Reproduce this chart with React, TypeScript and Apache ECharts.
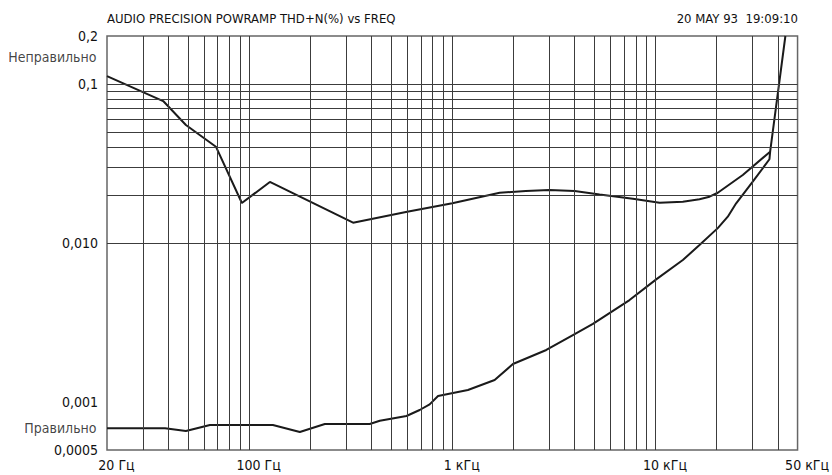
import React, { useEffect, useRef } from 'react';
import * as echarts from 'echarts';

const titleLeft = 'AUDIO PRECISION POWRAMP THD+N(%) vs FREQ';
const titleRight = '20 MAY 93  19:09:10';

const xTickValues = [20, 100, 1000, 10000, 50000];
const xTickLabels = ['20 Гц', '100 Гц', '1 кГц', '10 кГц', '50 кГц'];
const yTickValues = [0.0005, 0.001, 0.01, 0.1, 0.2];
const yTickLabels = ['0,0005', '0,001', '0,010', '0,1', '0,2'];

const xGridValues = [
  30, 40, 50, 60, 70, 80, 90, 100,
  200, 300, 400, 500, 600, 700, 800, 900, 1000,
  2000, 3000, 4000, 5000, 6000, 7000, 8000, 9000, 10000,
  20000, 30000, 40000,
];
const yGridValues = [
  0.0006, 0.0007, 0.0008, 0.0009, 0.001,
  0.002, 0.003, 0.004, 0.005, 0.006, 0.007, 0.008, 0.009, 0.01,
  0.02, 0.03, 0.04, 0.05, 0.06, 0.07, 0.08, 0.09, 0.1,
];

// Upper curve ("Неправильно")
const upperFreq = [
  20, 37.8, 48.9, 68.7, 92.2, 126.6, 325, 600, 1000, 1710, 2300, 3000, 4000,
  5306, 7737, 10470, 13630, 16460, 18440, 20250, 26880, 36650, 43560,
];
const upperThd = [
  0.112, 0.078, 0.0552, 0.0403, 0.01784, 0.0242, 0.01342, 0.0157, 0.0178, 0.0207, 0.0212, 0.0215, 0.0212,
  0.0202, 0.01896, 0.0179, 0.01817, 0.01882, 0.01954, 0.0207, 0.02676, 0.0375, 0.2,
];

// Lower curve ("Правильно")
const lowerFreq = [
  20, 38.6, 48.9, 64.2, 131, 177.8, 236, 392.6, 440, 595, 691, 774, 851, 1194, 1616, 1988,
  2902, 3922, 4920, 7450, 10080, 13630, 16460, 20250, 22680, 24940, 30100, 36360, 36650,
];
const lowerThd = [
  0.000684, 0.000684, 0.000658, 0.000718, 0.000718, 0.000649, 0.000729, 0.000729, 0.000764, 0.000818,
  0.000892, 0.000968, 0.001092, 0.001191, 0.001377, 0.001736,
  0.002126, 0.00264, 0.0031, 0.00438, 0.00591, 0.00782, 0.0097, 0.0124, 0.01463, 0.01776, 0.02428, 0.0336, 0.0375,
];

const annotationTexts = ['Неправильно', 'Правильно'];
const annotationValues = [0.147, 0.000687];

const FONT = "'Liberation Sans Narrow', 'DejaVu Sans Condensed', 'Liberation Sans', sans-serif";

function pickLabel(v: number, ticks: number[], labels: string[]): string {
  for (let i = 0; i < ticks.length; i++) {
    if (Math.abs(Math.log10(v) - Math.log10(ticks[i])) < 0.005) return labels[i];
  }
  return '';
}

export default function App() {
  const ref = useRef<HTMLDivElement>(null);
  useEffect(() => {
    if (!ref.current) return;
    const chart = echarts.init(ref.current, null, { renderer: 'svg' });
    const gridColor = '#3c3c3c';
    const textColor = '#111111';
    const option: any = {
      animation: false,
      backgroundColor: '#ffffff',
      title: [
        {
          text: titleLeft,
          left: 107,
          top: 12,
          padding: 0,
          textStyle: { fontFamily: FONT, fontSize: 13, fontWeight: 'normal', color: textColor },
        },
        {
          text: titleRight,
          right: 34,
          top: 12,
          padding: 0,
          textStyle: { fontFamily: FONT, fontSize: 13, fontWeight: 'normal', color: textColor },
        },
      ],
      grid: {
        left: 107,
        right: 34,
        top: 36,
        bottom: 25,
        show: true,
        borderColor: '#666',
        borderWidth: 1.5,
        containLabel: false,
      },
      xAxis: {
        type: 'log',
        logBase: 10,
        min: 20,
        max: 50000,
        axisLine: { show: false },
        axisTick: { show: false },
        splitLine: { show: false },
        axisLabel: {
          showMinLabel: true,
          showMaxLabel: true,
          margin: 8,
          padding: [0, 0, 0, 19],
          fontFamily: FONT,
          fontSize: 14,
          color: textColor,
          formatter: (v: number) => pickLabel(v, xTickValues, xTickLabels),
        },
      },
      yAxis: {
        type: 'log',
        logBase: 10,
        min: 0.0005,
        max: 0.2,
        axisLine: { show: false },
        axisTick: { show: false },
        splitLine: { show: false },
        axisLabel: {
          showMinLabel: true,
          showMaxLabel: true,
          margin: 9,
          fontFamily: FONT,
          fontSize: 14,
          color: textColor,
          formatter: (v: number) => pickLabel(v, yTickValues, yTickLabels),
        },
      },
      series: [
        {
          type: 'line',
          data: [],
          z: 1,
          silent: true,
          markLine: {
            silent: true,
            symbol: ['none', 'none'],
            label: { show: false },
            lineStyle: { type: 'solid', color: gridColor, width: 1 },
            data: [
              ...xGridValues.map((v) => ({ xAxis: v })),
              ...yGridValues.map((v) => ({ yAxis: v })),
            ],
          },
        },
        {
          type: 'line',
          z: 3,
          data: upperFreq.map((f, i) => [f, upperThd[i]]),
          showSymbol: false,
          symbol: 'none',
          lineStyle: { color: '#1a1a1a', width: 2 },
        },
        {
          type: 'line',
          z: 3,
          data: lowerFreq.map((f, i) => [f, lowerThd[i]]),
          showSymbol: false,
          symbol: 'none',
          lineStyle: { color: '#1a1a1a', width: 2 },
        },
        {
          type: 'scatter',
          z: 4,
          symbolSize: 1,
          itemStyle: { color: 'rgba(0,0,0,0)' },
          clip: false,
          data: annotationTexts.map((t, i) => ({ value: [xTickValues[0], annotationValues[i]], name: t })),
          label: {
            show: true,
            position: 'left',
            distance: 10,
            fontFamily: FONT,
            fontSize: 14,
            color: textColor,
            formatter: (p: any) => p.name,
          },
        },
      ],
    };
    chart.setOption(option);
    return () => chart.dispose();
  }, []);
  return (
    <div
      ref={ref}
      style={{ position: 'fixed', left: 0, top: 0, width: 832, height: 475, background: '#fff' }}
    />
  );
}
